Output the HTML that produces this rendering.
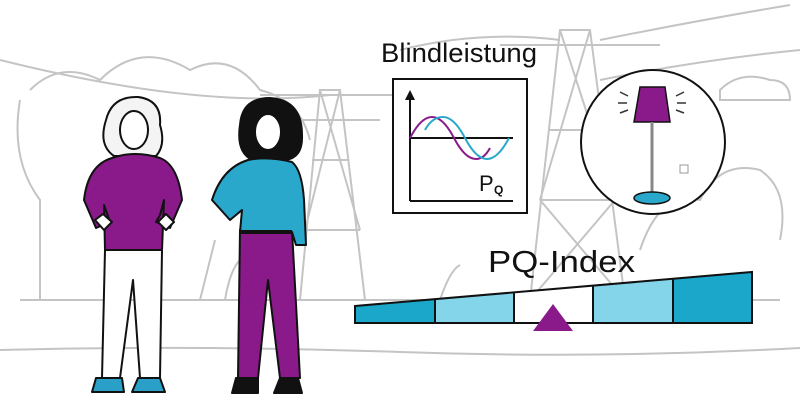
<!DOCTYPE html>
<html><head><meta charset="utf-8"><style>
html,body{margin:0;padding:0;background:#fff;}
svg{display:block;}
text{font-family:"Liberation Sans",sans-serif;}
</style></head><body>
<svg width="800" height="419" viewBox="0 0 800 419" xmlns="http://www.w3.org/2000/svg">
<g fill="none" stroke="#c4c4c4" stroke-width="2">
  <path d="M20 300 L780 300"/>
  <path d="M0 350 Q200 345 400 352 T800 348"/>
  <path d="M30 90 Q60 60 100 80 Q140 40 190 70 Q230 50 260 90 Q300 100 310 140"/>
  <path d="M20 100 Q10 160 40 200 L40 300"/>
  <path d="M640 250 Q660 190 700 200 Q720 160 760 170 Q790 190 780 240"/>
  <path d="M300 300 L320 90 L340 90 L365 300 M305 230 L360 230 M312 160 L348 160 M260 95 L400 95 M280 120 L380 120 M320 90 L360 230 M340 90 L305 230"/>
  <path d="M530 300 L560 30 L590 30 L625 300 M540 200 L615 200 M548 130 L600 130 M500 45 L660 45 M560 30 L615 200 M590 30 L540 200 M540 200 L625 300 M615 200 L530 300"/>
  <path d="M0 60 Q200 110 330 95 M400 50 Q480 30 560 40 M600 40 Q700 20 790 5 M600 80 Q700 60 800 50"/>
  <path d="M720 90 Q740 70 770 80 Q790 80 790 100 L720 100 Z"/>
  <path d="M200 300 Q210 260 215 240 M225 300 Q230 270 240 260 M440 300 Q450 270 460 265"/>
</g>
<!-- Woman 1 -->
<g stroke="#111" stroke-width="2" stroke-linejoin="round">
  <path d="M106 120 Q112 96 138 97 Q162 100 160 125 Q166 145 156 156 L114 156 Q98 145 106 120Z" fill="#f4f4f4"/>
  <ellipse cx="134" cy="130" rx="14" ry="19" fill="#fff"/>
  <path d="M105 250 L102 378 L120 378 L133 280 L140 378 L160 378 L162 250 Z" fill="#fff"/>
  <path d="M112 158 Q135 150 160 158 Q178 165 182 200 L170 228 L156 222 L160 215 L164 200 L162 250 L105 250 L104 205 L110 222 L96 228 L84 200 Q88 165 112 158 Z" fill="#8a1a8a"/>
  <path d="M95 220 L103 214 L112 222 L104 230 Z M158 222 L166 214 L174 222 L166 230 Z" fill="#fff"/>
  <path d="M96 378 L122 378 L124 392 L92 392 Z" fill="#2aa0c8"/>
  <path d="M138 378 L160 378 L165 392 L132 392 Z" fill="#2aa0c8"/>
</g>
<!-- Woman 2 -->
<g stroke="#111" stroke-width="2" stroke-linejoin="round">
  <path d="M240 125 Q242 98 270 98 Q302 100 302 135 Q303 158 285 160 L252 160 Q236 152 240 125Z" fill="#111"/>
  <ellipse cx="268" cy="132" rx="13" ry="18" fill="#fff"/>
  <path d="M240 230 L292 230 L300 378 L280 378 L268 280 L258 378 L238 378 Z" fill="#8a1a8a"/>
  <path d="M248 160 Q268 156 292 162 Q302 170 304 200 L306 245 L296 245 L292 232 L240 232 L242 210 L230 220 L212 200 Q222 168 248 160 Z" fill="#2aa8cc"/>
  <path d="M240 232 L292 232" stroke-width="4"/>
  <path d="M236 378 L258 378 L258 393 L232 393 Z" fill="#111"/>
  <path d="M280 378 L298 378 L302 393 L274 393 Z" fill="#111"/>
</g>
<text x="381" y="62" font-size="27" fill="#111" textLength="156" lengthAdjust="spacingAndGlyphs">Blindleistung</text>
<rect x="393" y="79" width="134" height="134" fill="#fff" stroke="#111" stroke-width="2"/>
<g fill="none" stroke-width="2">
  <path d="M410 201 L410 98 M410 201 L513 201 M410 138 L513 138" stroke="#111"/>
  <path d="M410 138 Q421 117 432 117 Q443 117 454 138 Q465 159 476 159 Q484 159 490 148" stroke="#8a1a8a"/>
  <path d="M425 130 Q432 117 443 117 Q454 117 465 138 Q476 159 487 159 Q498 159 509 138" stroke="#2aa8cc"/>
</g>
<path d="M405 100 L410 90 L415 100 Z" fill="#111"/>
<text x="479" y="191" font-size="22" fill="#111">P</text>
<text x="494" y="194" font-size="12" fill="#111" font-weight="bold">Q</text>
<circle cx="653" cy="142" r="72" fill="#fff" stroke="#111" stroke-width="2"/>
<path d="M640 87 L665 87 L670 122 L634 122 Z" fill="#8a1a8a" stroke="#111" stroke-width="1.5"/>
<path d="M652 122 L652 195" stroke="#888" stroke-width="3"/>
<ellipse cx="652" cy="198" rx="18" ry="6" fill="#2aa8cc" stroke="#111" stroke-width="1.5"/>
<g stroke="#333" stroke-width="1.5"><path d="M620 92 L628 96 M618 103 L627 103 M620 113 L628 110 M684 92 L676 96 M686 103 L677 103 M684 113 L676 110"/></g>
<rect x="680" y="165" width="8" height="8" fill="none" stroke="#999"/>
<text x="488" y="272" font-size="31" fill="#111" textLength="147" lengthAdjust="spacingAndGlyphs">PQ-Index</text>
<path d="M355 306 L435 299 L435 323 L355 323 Z" fill="#1aa7c9"/>
<path d="M435 299 L514 292 L514 323 L435 323 Z" fill="#84d4ea"/>
<path d="M514 292 L593 285 L593 323 L514 323 Z" fill="#fff"/>
<path d="M593 285 L673 279 L673 323 L593 323 Z" fill="#84d4ea"/>
<path d="M673 279 L752 272 L752 323 L673 323 Z" fill="#1aa7c9"/>
<path d="M355 306 L752 272 L752 323 L355 323 Z M435 299 L435 323 M514 292 L514 323 M593 285 L593 323 M673 279 L673 323" fill="none" stroke="#111" stroke-width="2"/>
<path d="M553 304 L573 331 L533 331 Z" fill="#8a1a8a"/>
</svg>
</body></html>
